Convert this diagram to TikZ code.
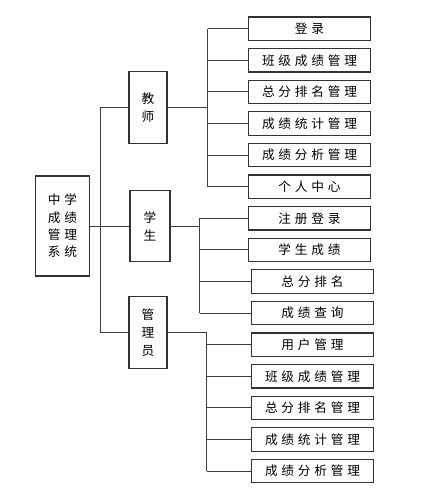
\documentclass[tikz,border=0pt]{standalone}
\usepackage{fontspec}
\newfontfamily\cjk[LetterSpace=30]{Noto Sans CJK SC}
\usetikzlibrary{positioning}

\begin{document}
\begin{tikzpicture}[x=0.75pt, y=-0.75pt,
  node distance=5.2pt,
  leaf/.style={draw=black!80, line width=0.9pt, minimum width=92pt, minimum height=17.6pt, inner sep=0pt, font=\cjk\fontsize{9.5}{12}\selectfont},
  role/.style={draw=black!80, line width=0.9pt, minimum width=28.5pt, minimum height=53.5pt, inner sep=0pt, align=center, font=\cjk\fontsize{9.5}{13.5}\selectfont},
  sysbox/.style={draw=black!80, line width=0.9pt, minimum width=41pt, minimum height=75pt, inner sep=0pt, align=center, font=\cjk\fontsize{9.5}{13}\selectfont},
  ln/.style={draw=black!75, line width=0.75pt}]
  \useasboundingbox (0,0) rectangle (425,492);
  % left side
  \node[sysbox] (sys) at (62.5,226) {中学\\成绩\\管理\\系统};
  \node[role] (tea) at (148,107.5) {教\\师};
  \node[role, minimum width=30pt] (stu) at (150,226) {学\\生};
  \node[role] (adm) at (148,332.5) {管\\理\\员};
  % teacher
  \node[leaf] (t1) at (309.5,28.7) {登录};
  \node[leaf, below=of t1] (t2) {班级成绩管理};
  \node[leaf, below=of t2] (t3) {总分排名管理};
  \node[leaf, below=of t3] (t4) {成绩统计管理};
  \node[leaf, below=of t4] (t5) {成绩分析管理};
  \node[leaf, below=of t5] (t6) {个人中心};
  % student
  \node[leaf, below=of t6] (s1) {注册登录};
  \node[leaf, below=of s1] (s2) {学生成绩};
  \node[leaf, below=of s2, xshift=2.25pt] (s3) {总分排名};
  \node[leaf, below=of s3] (s4) {成绩查询};
  % admin
  \node[leaf, below=of s4] (a1) {用户管理};
  \node[leaf, below=of a1] (a2) {班级成绩管理};
  \node[leaf, below=of a2] (a3) {总分排名管理};
  \node[leaf, below=of a3] (a4) {成绩统计管理};
  \node[leaf, below=of a4] (a5) {成绩分析管理};
  % connectors
  \draw[ln] (sys) -- (stu);
  \draw[ln] (tea.west) -- ++(-28,0) |- (adm.west);
  \draw[ln] (tea.east) -- ++(40,0) coordinate (tb);
  \draw[ln] (tb |- t1.west) -- (tb |- t6.west);
  \foreach \n in {t1,t2,t3,t4,t5,t6}
    \draw[ln] (tb |- \n.west) -- (\n.west);
  \draw[ln] (stu.east) -- ++(29,0) coordinate (sb);
  \draw[ln] (sb |- s1.west) -- (sb |- s4.west);
  \foreach \n in {s1,s2,s3,s4}
    \draw[ln] (sb |- \n.west) -- (\n.west);
  \draw[ln] (adm.east) -- ++(39,0) coordinate (ab);
  \draw[ln] (ab) -- (ab |- a5.west);
  \foreach \n in {a1,a2,a3,a4,a5}
    \draw[ln] (ab |- \n.west) -- (\n.west);
\end{tikzpicture}
\end{document}
